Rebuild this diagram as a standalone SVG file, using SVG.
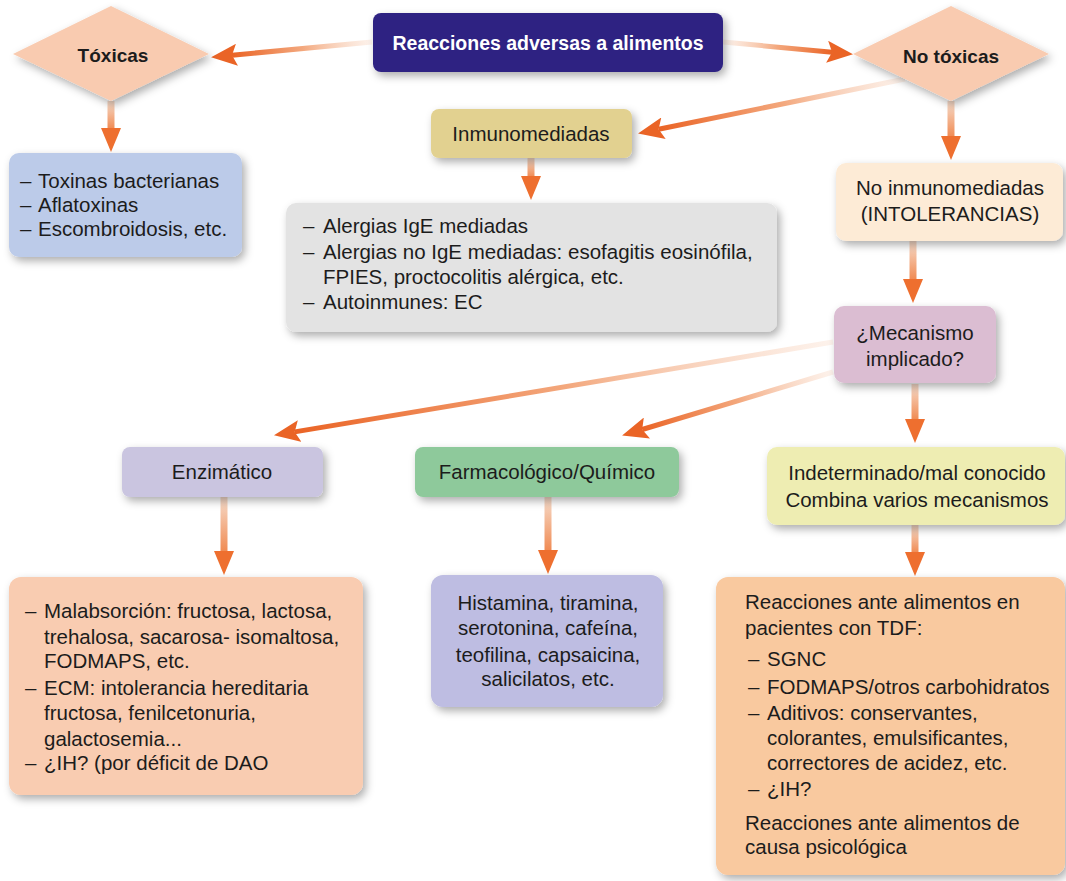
<svg xmlns="http://www.w3.org/2000/svg" width="1066" height="881" viewBox="0 0 1066 881">
<defs>
<style>
.t{font-family:"Liberation Sans",Arial,sans-serif;font-size:20.5px;fill:#1c1c1c}
.c{text-anchor:middle}
.b{font-weight:bold;font-size:19px}
.tt{font-size:19.5px;fill:#ffffff}
.sh{filter:url(#ds)}
.dg{fill:none;stroke-width:5}
.vt{fill:none;stroke-width:7}
</style>
<filter id="ds" x="-20%" y="-20%" width="140%" height="150%">
<feDropShadow dx="3" dy="4" stdDeviation="4" flood-color="#000" flood-opacity="0.32"/>
</filter>
<marker id="hd" viewBox="0 0 26 22" refX="5" refY="11" markerWidth="26" markerHeight="22" markerUnits="userSpaceOnUse" orient="auto">
<path d="M0,0 L26,11 L0,22 L5,11 z" fill="#ea6426"/>
</marker>
<marker id="hv" viewBox="0 0 24 20" refX="1" refY="10" markerWidth="24" markerHeight="20" markerUnits="userSpaceOnUse" orient="auto">
<path d="M0,0 L24,10 L0,20 z" fill="#ee6f2f"/>
</marker>
<linearGradient id="g1" gradientUnits="userSpaceOnUse" x1="372" y1="42" x2="232" y2="55"><stop offset="0" stop-color="#fbe6d9" stop-opacity="0.5"/><stop offset="0.5" stop-color="#f3a77c"/><stop offset="1" stop-color="#ea6426"/></linearGradient>
<linearGradient id="g2" gradientUnits="userSpaceOnUse" x1="723" y1="42" x2="832" y2="52"><stop offset="0" stop-color="#fbe6d9" stop-opacity="0.5"/><stop offset="0.5" stop-color="#f3a77c"/><stop offset="1" stop-color="#ea6426"/></linearGradient>
<linearGradient id="g3" gradientUnits="userSpaceOnUse" x1="905" y1="79" x2="659" y2="129"><stop offset="0" stop-color="#fbe6d9" stop-opacity="0.5"/><stop offset="0.5" stop-color="#f3a77c"/><stop offset="1" stop-color="#ea6426"/></linearGradient>
<linearGradient id="g8" gradientUnits="userSpaceOnUse" x1="833" y1="342" x2="295" y2="432"><stop offset="0" stop-color="#fbe6d9" stop-opacity="0.5"/><stop offset="0.5" stop-color="#f3a77c"/><stop offset="1" stop-color="#ea6426"/></linearGradient>
<linearGradient id="g9" gradientUnits="userSpaceOnUse" x1="833" y1="372" x2="642" y2="430"><stop offset="0" stop-color="#fbe6d9" stop-opacity="0.5"/><stop offset="0.5" stop-color="#f3a77c"/><stop offset="1" stop-color="#ea6426"/></linearGradient>
<linearGradient id="v4" gradientUnits="userSpaceOnUse" x1="0" y1="101" x2="0" y2="129"><stop offset="0" stop-color="#f6dccb"/><stop offset="1" stop-color="#f08a52"/></linearGradient>
<linearGradient id="v5" gradientUnits="userSpaceOnUse" x1="0" y1="158" x2="0" y2="177"><stop offset="0" stop-color="#f6dccb"/><stop offset="1" stop-color="#f08a52"/></linearGradient>
<linearGradient id="v6" gradientUnits="userSpaceOnUse" x1="0" y1="101" x2="0" y2="137"><stop offset="0" stop-color="#f6dccb"/><stop offset="1" stop-color="#f08a52"/></linearGradient>
<linearGradient id="v7" gradientUnits="userSpaceOnUse" x1="0" y1="241" x2="0" y2="280"><stop offset="0" stop-color="#f6dccb"/><stop offset="1" stop-color="#f08a52"/></linearGradient>
<linearGradient id="v10" gradientUnits="userSpaceOnUse" x1="0" y1="384" x2="0" y2="420"><stop offset="0" stop-color="#f6dccb"/><stop offset="1" stop-color="#f08a52"/></linearGradient>
<linearGradient id="v11" gradientUnits="userSpaceOnUse" x1="0" y1="497" x2="0" y2="552"><stop offset="0" stop-color="#f6dccb"/><stop offset="1" stop-color="#f08a52"/></linearGradient>
<linearGradient id="v12" gradientUnits="userSpaceOnUse" x1="0" y1="497" x2="0" y2="551"><stop offset="0" stop-color="#f6dccb"/><stop offset="1" stop-color="#f08a52"/></linearGradient>
<linearGradient id="v13" gradientUnits="userSpaceOnUse" x1="0" y1="525" x2="0" y2="553"><stop offset="0" stop-color="#f6dccb"/><stop offset="1" stop-color="#f08a52"/></linearGradient>
</defs>
<rect width="1066" height="881" fill="#ffffff"/>

<g id="connectors">
<line class="dg" x1="372" y1="42" x2="232" y2="55.2" stroke="url(#g1)" marker-end="url(#hd)"/>
<line class="dg" x1="723" y1="42" x2="832.1" y2="52.2" stroke="url(#g2)" marker-end="url(#hd)"/>
<line class="dg" x1="905" y1="79" x2="658.6" y2="129.2" stroke="url(#g3)" marker-end="url(#hd)"/>
<line class="dg" x1="833" y1="342" x2="294.7" y2="431.9" stroke="url(#g8)" marker-end="url(#hd)"/>
<line class="dg" x1="833" y1="372" x2="642.2" y2="429.5" stroke="url(#g9)" marker-end="url(#hd)"/>
<line class="vt" x1="111" y1="101" x2="111" y2="129" stroke="url(#v4)" marker-end="url(#hv)"/>
<line class="vt" x1="531" y1="158" x2="531" y2="177" stroke="url(#v5)" marker-end="url(#hv)"/>
<line class="vt" x1="951" y1="101" x2="951" y2="137" stroke="url(#v6)" marker-end="url(#hv)"/>
<line class="vt" x1="913" y1="241" x2="913" y2="280" stroke="url(#v7)" marker-end="url(#hv)"/>
<line class="vt" x1="915" y1="384" x2="915" y2="420" stroke="url(#v10)" marker-end="url(#hv)"/>
<line class="vt" x1="224" y1="497" x2="224" y2="552" stroke="url(#v11)" marker-end="url(#hv)"/>
<line class="vt" x1="548" y1="497" x2="548" y2="551" stroke="url(#v12)" marker-end="url(#hv)"/>
<line class="vt" x1="915" y1="525" x2="915" y2="553" stroke="url(#v13)" marker-end="url(#hv)"/>
</g>

<g id="main">
<rect class="sh" x="373" y="13" width="350" height="59" rx="8" fill="#2f2482"/>
<text class="t c b tt" x="548" y="50">Reacciones adversas a alimentos</text>
</g>

<g id="toxicas">
<polygon class="sh" points="111,6 209,54 111,101 13,54" fill="#f9cbb0"/>
<text class="t c b" x="113" y="62">Tóxicas</text>
</g>

<g id="no-toxicas">
<polygon class="sh" points="951,6 1049,54 951,101 853,54" fill="#f9cbb0"/>
<text class="t c b" x="951" y="63">No tóxicas</text>
</g>

<g id="toxinas">
<rect class="sh" x="9" y="153" width="233" height="104" rx="10" fill="#bccbe9"/>
<text class="t"><tspan x="20" y="188">–</tspan><tspan x="38" y="188">Toxinas bacterianas</tspan></text>
<text class="t"><tspan x="20" y="212">–</tspan><tspan x="38" y="212">Aflatoxinas</tspan></text>
<text class="t"><tspan x="20" y="236">–</tspan><tspan x="38" y="236">Escombroidosis, etc.</tspan></text>
</g>

<g id="inmunomediadas">
<rect class="sh" x="431" y="109" width="201" height="49" rx="8" fill="#e2d190"/>
<text class="t c" x="531" y="141">Inmunomediadas</text>
</g>

<g id="alergias">
<rect class="sh" x="286" y="203" width="491" height="129" rx="10" fill="#e3e3e3"/>
<text class="t"><tspan x="303" y="233">–</tspan><tspan x="323" y="233">Alergias IgE mediadas</tspan></text>
<text class="t"><tspan x="303" y="259">–</tspan><tspan x="323" y="259">Alergias no IgE mediadas: esofagitis eosinófila,</tspan></text>
<text class="t" x="323" y="284">FPIES, proctocolitis alérgica, etc.</text>
<text class="t"><tspan x="303" y="309">–</tspan><tspan x="323" y="309">Autoinmunes: EC</tspan></text>
</g>

<g id="no-inmunomediadas">
<rect class="sh" x="836" y="163" width="227" height="78" rx="10" fill="#fdebd6"/>
<text class="t c" x="950" y="195">No inmunomediadas</text>
<text class="t c" x="950" y="221">(INTOLERANCIAS)</text>
</g>

<g id="mecanismo">
<rect class="sh" x="834" y="306" width="162" height="77" rx="10" fill="#dbbdd2"/>
<text class="t c" x="915" y="340">¿Mecanismo</text>
<text class="t c" x="915" y="366">implicado?</text>
</g>

<g id="enzimatico">
<rect class="sh" x="122" y="447" width="201" height="50" rx="8" fill="#cac5e0"/>
<text class="t c" x="222" y="479">Enzimático</text>
</g>

<g id="farmacologico">
<rect class="sh" x="415" y="447" width="264" height="50" rx="8" fill="#8ec99b"/>
<text class="t c" x="547" y="479">Farmacológico/Químico</text>
</g>

<g id="indeterminado">
<rect class="sh" x="767" y="447" width="298" height="78" rx="10" fill="#eeedb2"/>
<text class="t c" x="917" y="480">Indeterminado/mal conocido</text>
<text class="t c" x="917" y="507">Combina varios mecanismos</text>
</g>

<g id="malabsorcion">
<rect class="sh" x="9" y="577" width="354" height="218" rx="12" fill="#f9ccb1"/>
<text class="t"><tspan x="25" y="618">–</tspan><tspan x="44" y="618">Malabsorción: fructosa, lactosa,</tspan></text>
<text class="t" x="44" y="644">trehalosa, sacarosa- isomaltosa,</text>
<text class="t" x="44" y="668">FODMAPS, etc.</text>
<text class="t"><tspan x="25" y="695">–</tspan><tspan x="44" y="695">ECM: intolerancia hereditaria</tspan></text>
<text class="t" x="44" y="720">fructosa, fenilcetonuria,</text>
<text class="t" x="44" y="746">galactosemia...</text>
<text class="t"><tspan x="25" y="770">–</tspan><tspan x="44" y="770">¿IH? (por déficit de DAO</tspan></text>
</g>

<g id="histamina">
<rect class="sh" x="431" y="575" width="232" height="132" rx="12" fill="#bebde2"/>
<text class="t c" x="548" y="610">Histamina, tiramina,</text>
<text class="t c" x="548" y="635">serotonina, cafeína,</text>
<text class="t c" x="548" y="662">teofilina, capsaicina,</text>
<text class="t c" x="548" y="686">salicilatos, etc.</text>
</g>

<g id="tdf">
<rect class="sh" x="716" y="577" width="349" height="298" rx="12" fill="#f9c99f"/>
<text class="t" x="745" y="609">Reacciones ante alimentos en</text>
<text class="t" x="745" y="635">pacientes con TDF:</text>
<text class="t"><tspan x="748" y="666">–</tspan><tspan x="767" y="666">SGNC</tspan></text>
<text class="t"><tspan x="748" y="694">–</tspan><tspan x="767" y="694">FODMAPS/otros carbohidratos</tspan></text>
<text class="t"><tspan x="748" y="720">–</tspan><tspan x="767" y="720">Aditivos: conservantes,</tspan></text>
<text class="t" x="767" y="745">colorantes, emulsificantes,</text>
<text class="t" x="767" y="770">correctores de acidez, etc.</text>
<text class="t"><tspan x="748" y="796">–</tspan><tspan x="767" y="796">¿IH?</tspan></text>
<text class="t" x="745" y="830">Reacciones ante alimentos de</text>
<text class="t" x="745" y="854">causa psicológica</text>
</g>
</svg>
